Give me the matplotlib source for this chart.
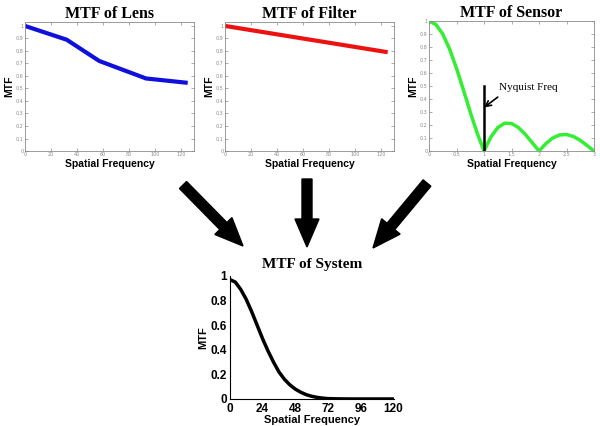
import matplotlib
matplotlib.use('Agg')
import matplotlib.pyplot as plt

# data
lens_x = [0, 32, 57, 93, 125]
lens_y = [1.0, 0.89, 0.72, 0.58, 0.545]

filter_x = [0, 125]
filter_y = [1.0, 0.79]

sensor_x = [0, 0.125, 0.25, 0.375, 0.5, 0.625, 0.75, 0.875, 1.0,
            1.125, 1.25, 1.375, 1.5, 1.625, 1.75, 1.875, 2.0,
            2.125, 2.25, 2.375, 2.5, 2.625, 2.75, 2.875, 3.0]
sensor_y = [1.0, 0.974, 0.90, 0.784, 0.637, 0.471, 0.30, 0.139, 0.0,
            0.108, 0.18, 0.214, 0.212, 0.181, 0.129, 0.065, 0.0,
            0.057, 0.10, 0.124, 0.127, 0.112, 0.082, 0.042, 0.0]

system_x = [0, 4, 8, 12, 16, 20, 24, 28, 32, 36, 40, 44, 48, 52, 56, 60,
            64, 68, 72, 80, 90, 100, 110, 120]
system_y = [0.97, 0.95, 0.89, 0.81, 0.71, 0.60, 0.49, 0.39, 0.30, 0.22,
            0.16, 0.115, 0.08, 0.055, 0.035, 0.022, 0.013, 0.007, 0.003,
            0.001, 0.0, 0.0, 0.0, 0.0]

top_xticks = [0, 20, 40, 60, 80, 100, 120]
mtf_ticks = [0, 0.1, 0.2, 0.3, 0.4, 0.5, 0.6, 0.7, 0.8, 0.9, 1]
mtf_labels = ['0', '0.1', '0.2', '0.3', '0.4', '0.5', '0.6', '0.7', '0.8', '0.9', '1']
sensor_xticks = [0, 0.5, 1, 1.5, 2, 2.5, 3]
sensor_xlabels = ['0', '0.5', '1', '1.5', '2', '2.5', '3']
system_xticks = [0, 24, 48, 72, 96, 120]
system_yticks = [0, 0.2, 0.4, 0.6, 0.8, 1]
system_ylabels = ['0', '0.2', '0.4', '0.6', '0.8', '1']

SERIF = 'Liberation Serif'
SANS = 'Liberation Sans'
GREY = '#8a8a8a'


def small_panel(ax, title):
    ax.set_title(title, family=SERIF, weight='bold', fontsize=11.5, pad=3)
    ax.set_xlabel('Spatial Frequency', family=SANS, weight='bold', fontsize=7.5, labelpad=1)
    ax.set_ylabel('MTF', family=SANS, weight='bold', fontsize=7.5, labelpad=1)
    ax.set_yticks(mtf_ticks)
    ax.set_yticklabels(mtf_labels)
    ax.tick_params(direction='in', length=2, width=0.5, colors=GREY,
                   labelsize=3.5, pad=1, top=True, right=True)
    for s in ax.spines.values():
        s.set_color(GREY)
        s.set_linewidth(0.6)


fig = plt.figure(figsize=(6, 4.26), dpi=100)

ax1 = fig.add_axes([0.0417, 0.6455, 0.282, 0.303])
ax1.plot(lens_x, lens_y, color='#1010dd', lw=3, solid_capstyle='butt')
ax1.set_xlim(0, 130)
ax1.set_ylim(0, 1.032)
ax1.set_xticks(top_xticks)
small_panel(ax1, 'MTF of Lens')

ax2 = fig.add_axes([0.375, 0.6455, 0.282, 0.303])
ax2.plot(filter_x, filter_y, color='#ee1111', lw=3, solid_capstyle='butt')
ax2.set_xlim(0, 130)
ax2.set_ylim(0, 1.032)
ax2.set_xticks(top_xticks)
small_panel(ax2, 'MTF of Filter')

ax3 = fig.add_axes([0.715, 0.6455, 0.275, 0.305])
ax3.plot(sensor_x, sensor_y, color='#33ee33', lw=2.5)
ax3.set_xlim(0, 3)
ax3.set_ylim(0, 1)
ax3.set_xticks(sensor_xticks)
ax3.set_xticklabels(sensor_xlabels)
small_panel(ax3, 'MTF of Sensor')
ax3.plot([1, 1], [0, 0.5], color='black', lw=1.8)
ax3.text(1.27, 0.49, 'Nyquist Freq', family=SERIF, fontsize=8, va='center')
ax3.annotate('', xy=(1.0, 0.335), xytext=(1.25, 0.415),
             arrowprops=dict(arrowstyle='->', color='black', lw=1.2,
                             shrinkA=0, shrinkB=0))

ax4 = fig.add_axes([0.383, 0.0634, 0.273, 0.289])
ax4.plot(system_x, system_y, color='black', lw=2.5)
ax4.set_xlim(0, 120)
ax4.set_ylim(0, 1)
ax4.set_xticks(system_xticks)
ax4.set_yticks(system_yticks)
ax4.set_yticklabels(system_ylabels)
ax4.spines['top'].set_visible(False)
ax4.spines['right'].set_visible(False)
ax4.tick_params(length=0, labelsize=8.5)
ax4.tick_params(axis='x', pad=3)
ax4.tick_params(axis='y', pad=2)
for lab in ax4.get_xticklabels() + ax4.get_yticklabels():
    lab.set_family(SANS)
    lab.set_weight('bold')
ax4.set_title('MTF of System', family=SERIF, weight='bold', fontsize=11, pad=6)
ax4.set_xlabel('Spatial Frequency', family=SANS, weight='bold', fontsize=8, labelpad=0)
ax4.set_ylabel('MTF', family=SANS, weight='bold', fontsize=8, labelpad=2)

# big arrows in pixel space
over = fig.add_axes([0, 0, 1, 1], zorder=-1)
over.set_xlim(0, 600)
over.set_ylim(426, 0)
over.axis('off')
arrows = [((183, 185), (243, 246)),
          ((307, 179), (307, 247)),
          ((427, 183), (373, 248))]
for (x0, y0), (x1, y1) in arrows:
    over.arrow(x0, y0, x1 - x0, y1 - y0, width=10, head_width=24,
               head_length=28, length_includes_head=True, color='black')

fig.savefig('out.png', dpi=100)
